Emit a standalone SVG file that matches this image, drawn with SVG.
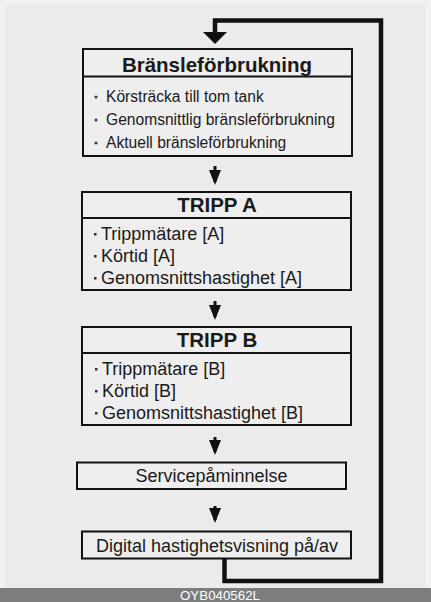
<svg xmlns="http://www.w3.org/2000/svg" width="431" height="602" viewBox="0 0 431 602">
<style>
.box{fill:#eeeeee;stroke:#111;stroke-width:2}
.div{stroke:#111;stroke-width:2}
.t{font-family:"Liberation Sans",Arial,sans-serif;fill:#1a1a1a}
.h{font-weight:bold;font-size:20.5px;text-anchor:middle}
.s{font-size:15.6px}
.i{font-size:18px}
.c{font-size:18px;text-anchor:middle}
.line{fill:none;stroke:#111;stroke-width:4.5}
.arr{fill:none;stroke:#111;stroke-width:3}
.dot{fill:#333}
</style>
<defs>
<marker id="ah" markerWidth="5" markerHeight="4" refX="4" refY="2" orient="auto" markerUnits="strokeWidth">
<path d="M0,0 L5,2 L0,4 Z" fill="#111"/>
</marker>
</defs>
<rect x="0" y="0" width="431" height="602" fill="#f2f2f2"/>
<rect x="5" y="5" width="421" height="583" fill="#ebebeb"/>
<g id="connectors">
<path class="line" d="M224.5,559 V581 H381 V20.5 H215 V34"/>
<path d="M203,32 L227,32 L215,44 Z" fill="#111"/>
<path class="arr" d="M215,166 V182" marker-end="url(#ah)"/>
<path class="arr" d="M215,301 V317" marker-end="url(#ah)"/>
<path class="arr" d="M215,437 V452" marker-end="url(#ah)"/>
<path class="arr" d="M215,506 V520" marker-end="url(#ah)"/>
</g>
<g id="fuel">
<rect class="box" x="83" y="49" width="269" height="107"/>
<line class="div" x1="83" y1="76.5" x2="352" y2="76.5"/>
<text class="t h" x="217" y="72">Bränsleförbrukning</text>
<circle class="dot" cx="96" cy="97" r="1.5"/>
<circle class="dot" cx="96" cy="120" r="1.5"/>
<circle class="dot" cx="96" cy="143" r="1.5"/>
<text class="t s" x="106" y="102">Körsträcka till tom tank</text>
<text class="t s" x="106" y="125">Genomsnittlig bränsleförbrukning</text>
<text class="t s" x="106" y="148">Aktuell bränsleförbrukning</text>
</g>
<g id="trippA">
<rect class="box" x="82" y="192" width="269" height="98"/>
<line class="div" x1="82" y1="218" x2="351" y2="218"/>
<text class="t h" x="217" y="212">TRIPP A</text>
<rect class="dot" x="94" y="233" width="2.5" height="2.5"/>
<rect class="dot" x="94" y="255" width="2.5" height="2.5"/>
<rect class="dot" x="94" y="277" width="2.5" height="2.5"/>
<text class="t i" x="101" y="240">Trippmätare [A]</text>
<text class="t i" x="101" y="262">Körtid [A]</text>
<text class="t i" x="101" y="284">Genomsnittshastighet [A]</text>
</g>
<g id="trippB">
<rect class="box" x="82" y="327" width="269" height="98"/>
<line class="div" x1="82" y1="353" x2="351" y2="353"/>
<text class="t h" x="217" y="347">TRIPP B</text>
<rect class="dot" x="95" y="368" width="2.5" height="2.5"/>
<rect class="dot" x="95" y="390" width="2.5" height="2.5"/>
<rect class="dot" x="95" y="412" width="2.5" height="2.5"/>
<text class="t i" x="102" y="375">Trippmätare [B]</text>
<text class="t i" x="102" y="397">Körtid [B]</text>
<text class="t i" x="102" y="419">Genomsnittshastighet [B]</text>
</g>
<g id="service">
<rect class="box" x="77" y="462.5" width="269" height="26.5"/>
<text class="t c" x="211.5" y="482">Servicepåminnelse</text>
</g>
<g id="digital">
<rect class="box" x="82" y="531.5" width="269" height="27"/>
<text class="t c" x="217" y="552">Digital hastighetsvisning på/av</text>
</g>
<rect x="0" y="588" width="431" height="14" fill="#7d7d7d"/>
<text class="t" x="220" y="600" font-size="13" text-anchor="middle" style="fill:#ffffff" textLength="80" lengthAdjust="spacingAndGlyphs">OYB040562L</text>
</svg>
